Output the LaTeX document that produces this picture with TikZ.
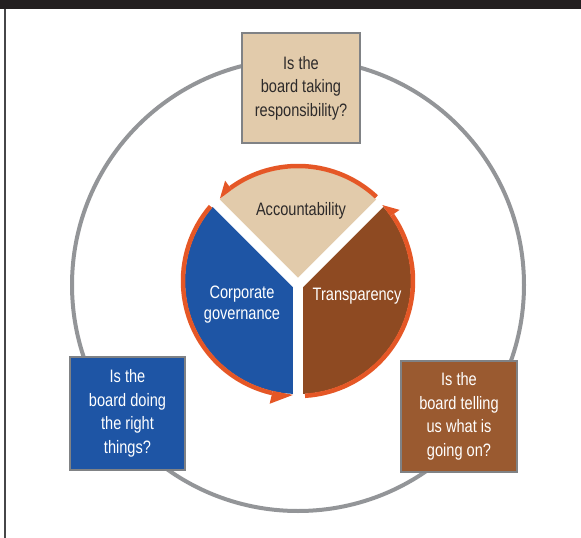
\documentclass[tikz,border=0pt]{standalone}
\usepackage{fontspec}
\setmainfont{Liberation Sans}[FakeStretch=0.81]
\definecolor{topbar}{RGB}{35,31,32}
\definecolor{framegray}{RGB}{70,70,72}
\definecolor{ringgray}{RGB}{147,149,152}
\definecolor{boxgray}{RGB}{128,130,133}
\definecolor{beige}{RGB}{226,203,171}
\definecolor{govblue}{RGB}{30,85,165}
\definecolor{transbrown}{RGB}{142,74,34}
\definecolor{boxbrown}{RGB}{154,90,48}
\definecolor{arcorange}{RGB}{229,87,38}
\definecolor{darktext}{RGB}{45,42,42}
\begin{document}
\begin{tikzpicture}[x=1pt,y=1pt,
  qbox/.style={draw=boxgray, line width=1.4pt, align=center, inner sep=0pt,
    font=\fontsize{18}{23.5}\selectfont},
  pietext/.style={align=center, inner sep=0pt, font=\fontsize{18}{21}\selectfont},
  ringline/.style={draw=ringgray, line width=4pt},
  cycarc/.style={draw=arcorange, line width=4.5pt},
  gapline/.style={draw=white, line width=10pt}]
\useasboundingbox (0,0) rectangle (581,-538);

% page frame
\fill[topbar] (0,0) rectangle (581,-8.5);
\draw[framegray, line width=1.5pt] (5,-8.5) -- (5,-538);

% centres of the outer ring, the pie and the junction of its gaps
\coordinate (O) at (298,-285);
\coordinate (C) at (298,-281);
\coordinate (Y) at (298,-285);

% outer grey ring
\draw[ringline] (O) circle (226);

% pie sectors
\fill[beige] (C) -- ([shift={(C)}]45:113) arc[start angle=45, end angle=135, radius=113] -- cycle;
\fill[govblue] (C) -- ([shift={(C)}]135:113) arc[start angle=135, end angle=270, radius=113] -- cycle;
\fill[transbrown] (C) -- ([shift={(C)}]-90:113) arc[start angle=-90, end angle=45, radius=113] -- cycle;

% white gaps between the sectors
\draw[gapline] (Y) -- ([shift={(Y)}]45:128);
\draw[gapline] (Y) -- ([shift={(Y)}]135:128);
\draw[gapline] (Y) -- ([shift={(Y)}]270:128);

% orange cycle arcs with one-sided arrow heads
\draw[cycarc] ([shift={(C)}]47:115) arc[start angle=47, end angle=126, radius=115];
\fill[arcorange] ([shift={(C)}]133.5:113.5) -- ([shift={(C)}]126:124) -- ([shift={(C)}]126:112.75) -- cycle;

\draw[cycarc] ([shift={(C)}]139.5:115) arc[start angle=139.5, end angle=257, radius=115];
\fill[arcorange] ([shift={(C)}]267.5:114) -- ([shift={(C)}]257:126) -- ([shift={(C)}]257:112.75) -- cycle;

\draw[cycarc] ([shift={(C)}]273.5:115) arc[start angle=273.5, end angle=395, radius=115];
\fill[arcorange] ([shift={(C)}]402:113.5) -- ([shift={(C)}]395:124) -- ([shift={(C)}]395:112.75) -- cycle;

% sector labels
\node[pietext, text=darktext] (acc) at (301,-211) {Accountability};
\node[pietext, text=white] (gov) at (242,-305) {Corporate\\governance};
\node[pietext, text=white] (tra) at (357,-296) {Transparency};

% question boxes
\node[qbox, fill=beige, text=darktext, minimum width=118, minimum height=110] (qacc) at (301,-88)
  {Is the\\board taking\\responsibility?};
\node[qbox, fill=govblue, text=white, minimum width=115, minimum height=113] (qgov) at (127.5,-413.5)
  {Is the\\board doing\\the right\\things?};
\node[qbox, fill=boxbrown, text=white, minimum width=116, minimum height=111] (qtra) at (459,-416.5)
  {Is the\\board telling\\us what is\\going on?};
\end{tikzpicture}
\end{document}
